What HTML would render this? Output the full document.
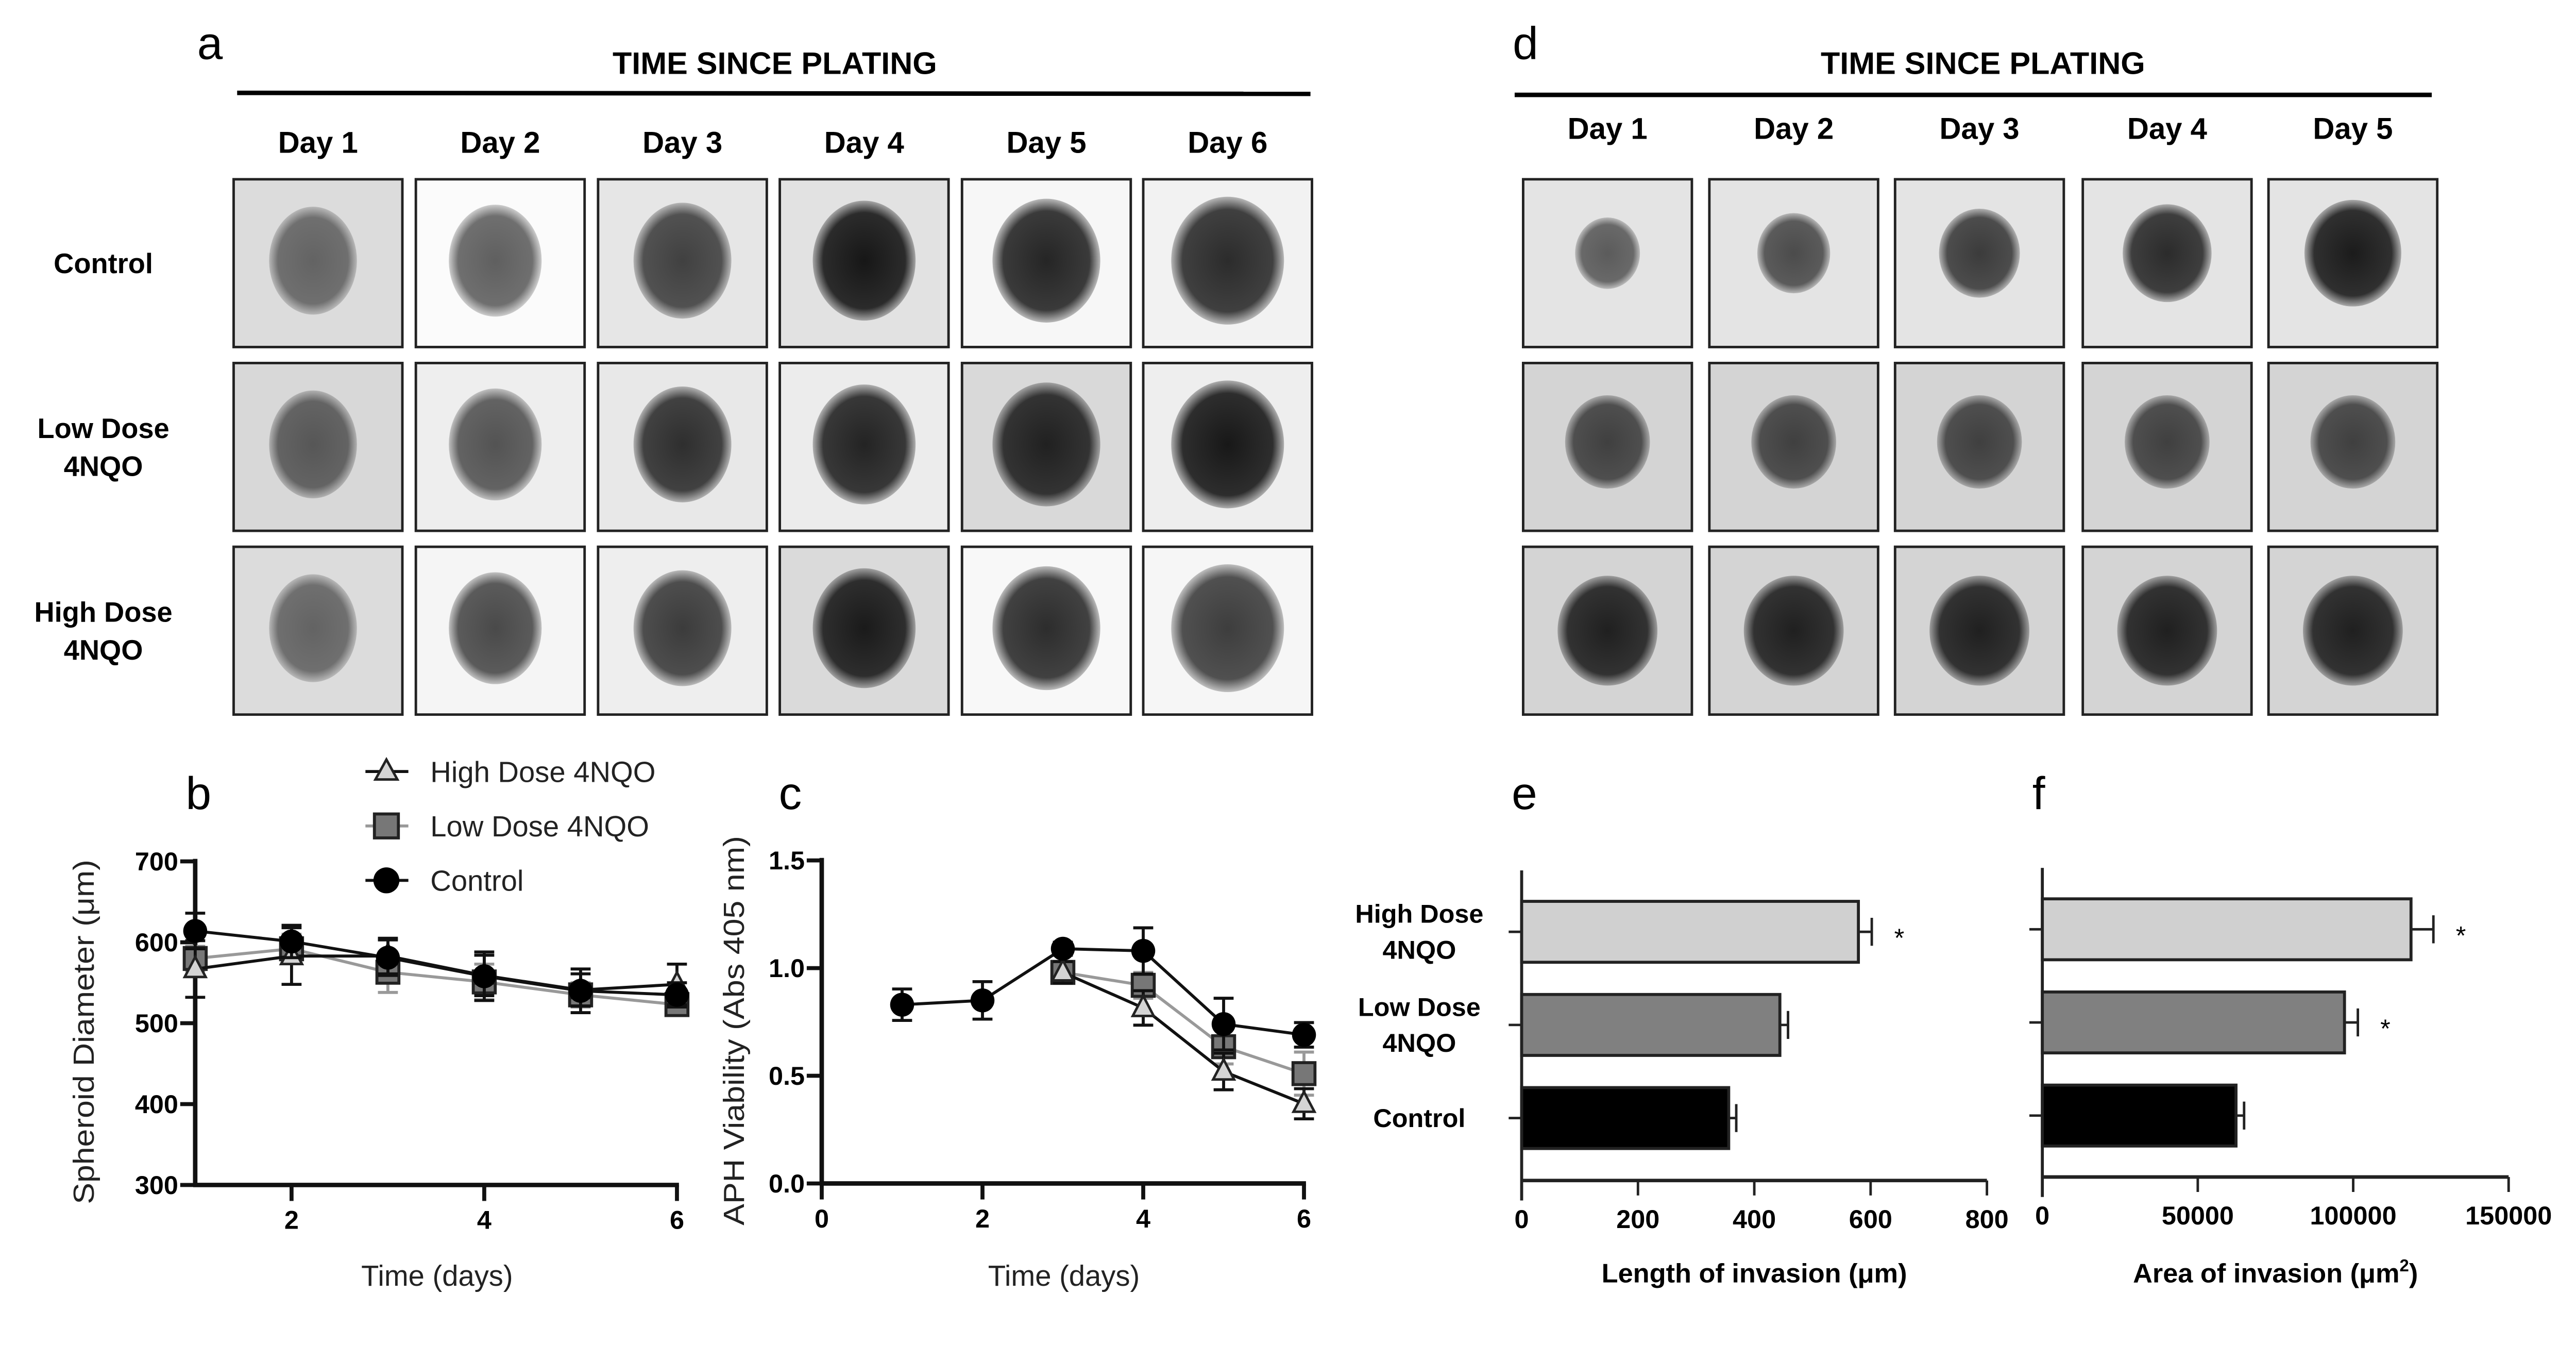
<!DOCTYPE html>
<html><head><meta charset="utf-8"><style>
html,body{margin:0;padding:0;background:#fff;}
svg{display:block;font-family:"Liberation Sans",Arial,sans-serif;}
</style></head><body>
<svg id="fig" width="5155" height="2641" viewBox="0 0 5155 2641" xmlns="http://www.w3.org/2000/svg">
<defs>
<radialGradient id="sph" cx="50%" cy="50%" r="50%"><stop offset="0" stop-color="#000" stop-opacity="1"/><stop offset="0.8" stop-color="#000" stop-opacity="0.9"/><stop offset="1" stop-color="#000" stop-opacity="0.3"/></radialGradient>
</defs>
<g transform="scale(0.969)">
<text x="395" y="118" font-size="92">a</text>
<text x="1552" y="148" font-size="62" font-weight="bold" text-anchor="middle" textLength="650" lengthAdjust="spacingAndGlyphs">TIME SINCE PLATING</text>
<line x1="475" y1="186" x2="2625" y2="188" stroke="#000" stroke-width="9"/>
<g id="gridA"></g>
<text x="3030" y="118" font-size="92">d</text>
<text x="3972" y="148" font-size="62" font-weight="bold" text-anchor="middle" textLength="650" lengthAdjust="spacingAndGlyphs">TIME SINCE PLATING</text>
<line x1="3034" y1="190" x2="4871" y2="190" stroke="#000" stroke-width="9"/>
<g id="gridD"></g>
<g id="chartB"></g>
<g id="chartC"></g>
<g id="chartE"></g>
<g id="chartF"></g>
</g>
</svg>
<script>
const NS="http://www.w3.org/2000/svg";
const daysA=["Day 1","Day 2","Day 3","Day 4","Day 5","Day 6"];
const daysD=["Day 1","Day 2","Day 3","Day 4","Day 5"];
const rowsA=[["Control"],["Low Dose","4NQO"],["High Dose","4NQO"]];
const bDays=[1,2,3,4,5,6];
const bControl=[614,601,581,558,540,535];
const bControlErr=[22,20,22,30,27,15];
const bLow=[580,592,563,551,535,523];
const bLowErr=[15,18,25,22,15,12];
const bHigh=[567,583,583,559,541,548];
const bHighErr=[35,35,22,25,20,25];
const bYTicks=[300,400,500,600,700];
const bXTicks=[2,4,6];
const cControl=[0.83,0.85,1.09,1.08,0.74,0.69];
const cControlErr=[0.073,0.087,0.03,0.107,0.12,0.057];
const cLow=[null,null,0.98,0.92,0.635,0.51];
const cLowErr=[0,0,0.05,0.06,0.08,0.1];
const cHigh=[null,null,0.98,0.815,0.52,0.37];
const cHighErr=[0,0,0.05,0.08,0.085,0.07];
const cYTicks=[0.0,0.5,1.0,1.5];
const cXTicks=[0,2,4,6];
const barCats=[["High Dose","4NQO"],["Low Dose","4NQO"],["Control"]];
const barFills=["#d0d0d0","#808080","#000000"];
const eVals=[579,444,356];
const eErr=[23,14,13];
const eSig=[true,false,false];
const eTicks=[0,200,400,600,800];
const fVals=[118600,97200,62300];
const fErr=[7200,4300,2600];
const fSig=[true,true,false];
const fTicks=[0,50000,100000,150000];
const aDark=[[0.55,0.62,0.72,0.9,0.85,0.82],[0.6,0.65,0.8,0.85,0.85,0.9],[0.55,0.7,0.75,0.88,0.82,0.75]];
const aBg=[["#dcdcdc","#fbfbfb","#e6e6e6","#e2e2e2","#f7f7f7","#f2f2f2"],["#d8d8d8","#eeeeee","#e8e8e8","#ececec","#d9d9d9","#eeeeee"],["#dcdcdc","#f5f5f5","#eeeeee","#dadada","#f8f8f8","#f6f6f6"]];

function mk(tag,attrs,parent){const e=document.createElementNS(NS,tag);for(const k in attrs)e.setAttribute(k,attrs[k]);if(parent)parent.appendChild(e);return e;}
function txt(parent,x,y,s,size,opts){const t=mk('text',{x:x,y:y,'font-size':size},parent);if(opts){for(const k in opts)t.setAttribute(k,opts[k]);}t.textContent=s;return t;}

const gA=document.getElementById('gridA');
const colA=[468,833,1198,1562,1927,2290], rowY=[359,727,1095], cw=338, ch=336;
daysA.forEach((d,i)=>{const t=txt(gA,colA[i]+cw/2,306,d,60,{'font-weight':'bold','text-anchor':'middle'});

});
rowsA.forEach((r,j)=>{r.forEach((s,k)=>{const t=txt(gA,207,rowY[j]+ch/2+20+(r.length>1?(k-0.5)*76:0),s,56,{'font-weight':'bold','text-anchor':'middle'});

});});
for(let j=0;j<3;j++)for(let i=0;i<6;i++){
 const g=mk('g',{},gA);
 
 
 mk('rect',{x:colA[i],y:rowY[j],width:cw,height:ch,fill:aBg[j][i],stroke:'#222','stroke-width':5},g);
 const rx=88+i*5, ry=108+i*4;
 mk('ellipse',{cx:colA[i]+cw/2+(i<2?-10:0),cy:rowY[j]+ch/2-5,rx:rx,ry:ry,fill:'url(#sph)',opacity:aDark[j][i]},g);
}
const gD=document.getElementById('gridD');
const colD=[3051,3424,3796,4172,4544];
daysD.forEach((d,i)=>{const t=txt(gD,colD[i]+cw/2,278,d,60,{'font-weight':'bold','text-anchor':'middle'});

});
for(let j=0;j<3;j++)for(let i=0;i<5;i++){
 const g=mk('g',{},gD);
 
 
 mk('rect',{x:colD[i],y:rowY[j],width:cw,height:ch,fill:j==0?'#e4e4e4':'#d4d4d4',stroke:'#222','stroke-width':5},g);
 const cx=colD[i]+cw/2, cy=rowY[j]+ch/2-(j==0?20:j==1?10:0);
 const r=j==0?(65+i*8):j==1?85:100;
 mk('ellipse',{cx:cx,cy:cy,rx:r,ry:r*1.1,fill:'url(#sph)',opacity:j==0?0.6+i*0.07:j==1?0.7:0.85},g);
}

function lineChart(gid,xs,ys,ticksX,ticksY,fmtY,series,ytitle,ytx,ytLen,label,labelX){
 const g=document.getElementById(gid);
 const x1=xs.px1;
 ticksY.forEach(v=>{const y=ys(v);const l=mk('line',{x1:xs.ax-30,y1:y,x2:xs.ax,y2:y,stroke:'#111','stroke-width':8},g);
  
  
  const t=txt(g,xs.ax-34,y+18,fmtY(v),52,{'font-weight':'bold','text-anchor':'end'});
  
  });
 ticksX.forEach(v=>{const x=xs.f(v);const l=mk('line',{x1:x,y1:ys.base,x2:x,y2:ys.base+32,stroke:'#111','stroke-width':8},g);
  
  
  const t=txt(g,x,ys.base+88,String(v),52,{'font-weight':'bold','text-anchor':'middle'});
  
  });
 const ya=mk('line',{x1:xs.ax,y1:ys.top,x2:xs.ax,y2:ys.base+4,stroke:'#111','stroke-width':9},g);
 
 
 const xa=mk('line',{x1:xs.ax-4,y1:ys.base,x2:x1,y2:ys.base,stroke:'#111','stroke-width':9},g);
 
 
 series.forEach(s=>{
  const pts=[];s.vals.forEach((v,i)=>{if(v!==null)pts.push([xs.f(bDays[i]),ys(v),i]);});
  const p=mk('polyline',{points:pts.map(q=>q[0]+','+q[1]).join(' '),fill:'none',stroke:s.line,'stroke-width':6},g);
  
  
  pts.forEach(q=>{const e=s.err[q[2]];const v=s.vals[q[2]];
   const yt=ys(v+e),yb=ys(v-e);
   const eb=mk('path',{d:`M${q[0]},${yt}V${yb}M${q[0]-20},${yt}h40M${q[0]-20},${yb}h40`,stroke:s.line,'stroke-width':6,fill:'none'},g);
   
   });
  pts.forEach(q=>{let m;
   if(s.marker=='circle')m=mk('circle',{cx:q[0],cy:q[1],r:24,fill:'#000'},g);
   else if(s.marker=='square')m=mk('rect',{x:q[0]-22,y:q[1]-22,width:44,height:44,fill:'#777',stroke:'#222','stroke-width':6},g);
   else m=mk('path',{d:`M${q[0]},${q[1]-24}L${q[0]+21},${q[1]+16}L${q[0]-21},${q[1]+16}Z`,fill:'#d4d4d4',stroke:'#222','stroke-width':5},g);
   
   });
 });
 const yt=txt(g,0,0,ytitle,58,{'text-anchor':'middle',fill:'#222',transform:`translate(${ytx},${(ys.top+ys.base)/2+20}) rotate(-90)`,textLength:ytLen,lengthAdjust:'spacingAndGlyphs'});
 
 
 const xt=txt(g,(xs.ax+x1)/2,2575,'Time (days)',58,{'text-anchor':'middle',fill:'#222'});
 
 
 const pl=txt(g,labelX,1620,label,92,{});
 
 
}
const ysB=v=>2373-(v-300)*648/400; ysB.base=2373; ysB.top=1720;
const xsB={f:d=>391+(d-1)*193,ax:391,px0:391,px1:1360};
lineChart('chartB',xsB,ysB,bXTicks,bYTicks,v=>String(v),[
 {name:'low-dose',vals:bLow,err:bLowErr,line:'#999',marker:'square'},
 {name:'high-dose',vals:bHigh,err:bHighErr,line:'#111',marker:'tri'},
 {name:'control',vals:bControl,err:bControlErr,line:'#111',marker:'circle'}],
 'Spheroid Diameter (μm)',188,690,'b',372);
const ysC=v=>2370-v*(2370-1723)/1.5; ysC.base=2370; ysC.top=1718;
const xsC={f:d=>1646+d*161,ax:1646,px0:1646,px1:2616};
lineChart('chartC',xsC,ysC,cXTicks,cYTicks,v=>v.toFixed(1),[
 {name:'low-dose',vals:cLow,err:cLowErr,line:'#999',marker:'square'},
 {name:'high-dose',vals:cHigh,err:cHighErr,line:'#111',marker:'tri'},
 {name:'control',vals:cControl,err:cControlErr,line:'#111',marker:'circle'}],
 'APH Viability (Abs 405 nm)',1490,780,'c',1560);

(function(){const g=document.getElementById('chartB');
 const items=[['High Dose 4NQO','tri','#111'],['Low Dose 4NQO','square','#999'],['Control','circle','#111']];
 items.forEach((it,i)=>{const y=1545+i*109;const x=774;
  const lg=mk('g',{},g);
  
  
  mk('line',{x1:732,y1:y,x2:818,y2:y,stroke:it[2],'stroke-width':6},lg);
  if(it[1]=='circle')mk('circle',{cx:x,cy:y,r:26,fill:'#000'},lg);
  else if(it[1]=='square')mk('rect',{x:x-24,y:y-24,width:48,height:48,fill:'#777',stroke:'#222','stroke-width':6},lg);
  else mk('path',{d:`M${x},${y-24}L${x+22},${y+16}L${x-22},${y+16}Z`,fill:'#d4d4d4',stroke:'#222','stroke-width':5},lg);
  txt(lg,862,y+21,it[0],58,{fill:'#222'});});})();

function barChart(gid,ax,x1px,maxV,vals,errs,sig,ticks,top0,baseY,title,label,showCats){
 const g=document.getElementById(gid);
 const xs=v=>ax+v*(x1px-ax)/maxV;
 const ya=mk('line',{x1:ax,y1:top0-62,x2:ax,y2:baseY+40,stroke:'#222','stroke-width':6},g);
 
 
 const xa=mk('line',{x1:ax,y1:baseY,x2:x1px,y2:baseY,stroke:'#222','stroke-width':7},g);
 
 
 ticks.forEach(v=>{const x=xs(v);const l=mk('line',{x1:x,y1:baseY,x2:x,y2:baseY+30,stroke:'#222','stroke-width':5},g);
  
  
  const t=txt(g,x,baseY+95,String(v),52,{'font-weight':'bold','text-anchor':'middle'});
  
  });
 vals.forEach((v,i)=>{const y=top0+i*186.5,h=122,cy=y+h/2;
  const tk=mk('line',{x1:ax-26,y1:cy,x2:ax,y2:cy,stroke:'#222','stroke-width':5},g);
  
  
  const b=mk('rect',{x:ax,y:y,width:xs(v)-ax,height:h,fill:barFills[i],stroke:'#222','stroke-width':6},g);
  
  
  const ex=xs(v+errs[i]);
  const eb=mk('path',{d:`M${xs(v)},${cy}H${ex}M${ex},${cy-28}V${cy+28}`,stroke:'#222','stroke-width':5,fill:'none'},g);
  
  
  if(sig[i]){const s=txt(g,ex+55,cy+30,'*',52,{'text-anchor':'middle'});
   
   }
  if(showCats){const c=barCats[i];c.forEach((s,k)=>{const t=txt(g,2843,cy+18+(c.length>1?(k-0.5)*72:0),s,52,{'font-weight':'bold','text-anchor':'middle'});
   
   });}
 });
 const tt=txt(g,(ax+x1px)/2,2568,title,54,{'font-weight':'bold','text-anchor':'middle'});
 
 
 const pl=txt(g,ax-20,1620,label,92,{});
 
 
 return tt;
}
barChart('chartE',3048,3980,800,eVals,eErr,eSig,eTicks,1805,2364,'Length of invasion (μm)','e',true);
const tf=barChart('chartF',4091,5025,150000,fVals,fErr,fSig,fTicks,1800,2357,'Area of invasion (μm','f',false);
const sup=document.createElementNS(NS,'tspan');sup.setAttribute('font-size','34');sup.setAttribute('dy','-22');sup.textContent='2';tf.appendChild(sup);
const cl=document.createElementNS(NS,'tspan');cl.setAttribute('dy','22');cl.textContent=')';tf.appendChild(cl);
</script>
</body></html>
